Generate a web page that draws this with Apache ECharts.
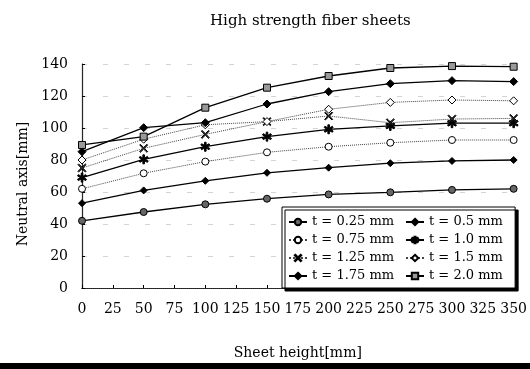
<!DOCTYPE html>
<html>
<head>
<meta charset="utf-8">
<script src="https://cdn.jsdelivr.net/npm/echarts@6/dist/echarts.min.js"></script>
<style>
  html, body { margin: 0; padding: 0; background: #fff; }
  #chart { width: 530px; height: 369px; }
</style>
</head>
<body>
<div id="chart"></div>
<script>
// sheet height [mm]
const heights = [0, 50, 100, 150, 200, 250, 300, 350];
const yTicks = [0, 20, 40, 60, 80, 100, 120, 140];

// neutral axis [mm] for each sheet thickness
const t025 = [42, 47.5, 52.3, 55.8, 58.5, 59.8, 61.3, 62];
const t050 = [53, 61, 67, 72, 75.2, 78, 79.4, 80];
const t075 = [62, 71.7, 79, 84.8, 88.3, 90.8, 92.5, 92.5];
const t100 = [69, 80.4, 88.3, 94.6, 99.2, 101.3, 103, 103];
const t125 = [75, 87.3, 96, 104, 107.5, 103.3, 105.6, 106];
const t150 = [80, 93, 102, 104, 111.7, 116, 117.5, 117];
const t175 = [85.2, 100.2, 103.3, 115, 122.7, 127.7, 129.6, 129];
const t200 = [89.4, 94.6, 112.7, 125.2, 132.5, 137.5, 138.7, 138.3];

const names = ['t = 0.25 mm', 't = 0.5 mm', 't = 0.75 mm', 't = 1.0 mm',
               't = 1.25 mm', 't = 1.5 mm', 't = 1.75 mm', 't = 2.0 mm'];

const font = 'DejaVu Serif';

// symbols
const asterisk = 'path://M-0.8,-5L0.8,-5L0.8,-1.5L3.8,-3.3L4.6,-1.9L1.6,0L4.6,1.9L3.8,3.3L0.8,1.5L0.8,5L-0.8,5L-0.8,1.5L-3.8,3.3L-4.6,1.9L-1.6,0L-4.6,-1.9L-3.8,-3.3L-0.8,-1.5Z';
const cross = 'path://M-4.2,-5L0,-1L4.2,-5L5,-4.2L1,0L5,4.2L4.2,5L0,1L-4.2,5L-5,4.2L-1,0L-5,-4.2Z';

function pts(vals) {
  return heights.map((h, i) => [h, vals[i]]);
}

function line(name, vals, symbol, size, fill, dotted) {
  return {
    name: name,
    type: 'line',
    data: pts(vals),
    symbol: symbol,
    symbolSize: size,
    showSymbol: true,
    lineStyle: { color: dotted ? '#444' : '#000', width: dotted ? 1 : 1.3, type: dotted ? 'dotted' : 'solid' },
    itemStyle: { color: fill, borderColor: '#000', borderWidth: 1 },
    animation: false
  };
}

const myChart = echarts.init(document.getElementById('chart'));

const legendBase = {
  orient: 'vertical',
  itemWidth: 18,
  itemHeight: 8,
  itemGap: 4,
  textStyle: { fontFamily: font, fontSize: 13, color: '#000', lineHeight: 14 }
};

const option = {
  backgroundColor: '#fff',
  title: {
    text: 'High strength fiber sheets',
    left: 205,
    top: 9,
    textStyle: { fontFamily: font, fontSize: 15, fontWeight: 'normal', color: '#000' }
  },
  grid: { left: 82, right: 15, top: 64, bottom: 81 },
  legend: [
    Object.assign({}, legendBase, {
      left: 282,
      top: 207,
      padding: [8, 121, 5, 6],
      backgroundColor: '#fff',
      borderColor: '#000',
      borderWidth: 1,
      shadowColor: '#000',
      shadowBlur: 0,
      shadowOffsetX: 3,
      shadowOffsetY: 3,
      data: [names[0], names[2], names[4], names[6]]
    }),
    Object.assign({}, legendBase, {
      left: 405,
      top: 215,
      padding: 0,
      z: 10,
      data: [names[1], names[3], names[5], names[7]]
    })
  ],
  xAxis: [
    {
      type: 'value',
      min: 0,
      max: 350,
      interval: 25,
      name: 'Sheet height[mm]',
      nameLocation: 'middle',
      nameGap: 58,
      nameTextStyle: { fontFamily: font, fontSize: 14, color: '#000' },
      axisLine: { lineStyle: { color: '#000', width: 1.2 } },
      axisTick: { inside: true, length: 3, lineStyle: { color: '#000' } },
      axisLabel: { fontFamily: font, fontSize: 14, color: '#000', margin: 14 },
      splitLine: { show: false }
    },
    {
      type: 'value',
      position: 'top',
      min: 0,
      max: 350,
      axisLine: { show: true, lineStyle: { color: '#333', width: 1, type: 'dotted' } },
      axisTick: { show: false },
      axisLabel: { show: false },
      splitLine: { show: false }
    }
  ],
  yAxis: [
    {
      type: 'value',
      min: yTicks[0],
      max: yTicks[yTicks.length - 1],
      interval: 20,
      name: 'Neutral axis[mm]',
      nameLocation: 'middle',
      nameGap: 37,
      nameTextStyle: { fontFamily: font, fontSize: 14, color: '#000', padding: [0, 16, 0, 0] },
      axisLine: { show: true, lineStyle: { color: '#000', width: 1.2 } },
      axisTick: { show: true, inside: true, length: 3, lineStyle: { color: '#000' } },
      axisLabel: { fontFamily: font, fontSize: 14, color: '#000', margin: 14 },
      splitLine: { show: true, lineStyle: { color: '#aaa', width: 1, type: [5, 16], opacity: 0.5 } }
    },
    {
      type: 'value',
      position: 'right',
      min: 0,
      max: 140,
      axisLine: { show: true, lineStyle: { color: '#333', width: 1, type: 'dotted' } },
      axisTick: { show: false },
      axisLabel: { show: false },
      splitLine: { show: false }
    }
  ],
  graphic: [
    { type: 'rect', left: 0, top: 363, shape: { width: 530, height: 6 }, style: { fill: '#000' } }
  ],
  series: [
    line(names[0], t025, 'circle', 7, '#666', false),
    line(names[1], t050, 'diamond', 7, '#000', false),
    line(names[2], t075, 'circle', 7, '#fff', true),
    line(names[3], t100, asterisk, 9, '#000', false),
    line(names[4], t125, cross, 8, '#444', true),
    line(names[5], t150, 'diamond', 8, '#fff', true),
    line(names[6], t175, 'diamond', 8, '#000', false),
    line(names[7], t200, 'rect', 7, '#999', false)
  ]
};

myChart.setOption(option);
window.addEventListener('resize', () => myChart.resize());
</script>
</body>
</html>
